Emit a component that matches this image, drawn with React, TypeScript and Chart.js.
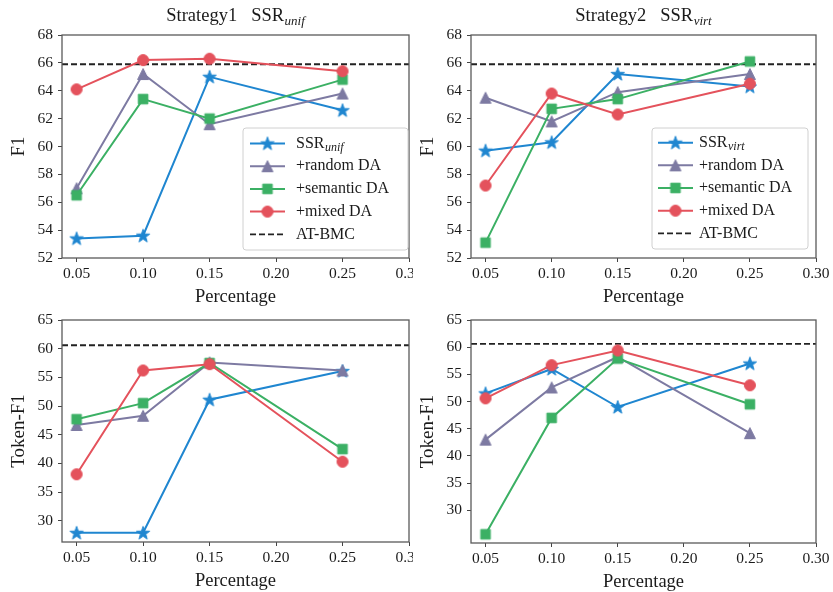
import React, { useEffect, useRef } from 'react';
import { Chart, registerables } from 'chart.js';

Chart.register(...registerables);

// ---------------- data ----------------
const percentages = [0.05, 0.1, 0.15, 0.25];
const xTickValues = [0.05, 0.1, 0.15, 0.2, 0.25, 0.3];
const f1TickValues = [52, 54, 56, 58, 60, 62, 64, 66, 68];
const tokenTickValues = [30, 35, 40, 45, 50, 55, 60, 65];

const seriesLabels = ['SSR', '+random DA', '+semantic DA', '+mixed DA'];
const baselineLabel = 'AT-BMC';
const xAxisTitle = 'Percentage';

const strategy1Title = 'Strategy1';
const strategy1Sub = 'unif';
const strategy2Title = 'Strategy2';
const strategy2Sub = 'virt';

// Strategy1, F1
const s1F1Ssr = [53.4, 53.6, 65.0, 62.6];
const s1F1Random = [57.0, 65.2, 61.6, 63.8];
const s1F1Semantic = [56.5, 63.4, 62.0, 64.8];
const s1F1Mixed = [64.1, 66.2, 66.3, 65.4];

// Strategy2, F1
const s2F1Ssr = [59.7, 60.3, 65.2, 64.3];
const s2F1Random = [63.5, 61.8, 63.9, 65.2];
const s2F1Semantic = [53.1, 62.7, 63.4, 66.1];
const s2F1Mixed = [57.2, 63.8, 62.3, 64.5];

// Strategy1, Token-F1
const s1TokSsr = [27.9, 27.9, 51.1, 56.1];
const s1TokRandom = [46.7, 48.3, 57.6, 56.2];
const s1TokSemantic = [47.7, 50.5, 57.5, 42.5];
const s1TokMixed = [38.1, 56.2, 57.3, 40.3];

// Strategy2, Token-F1
const s2TokSsr = [51.5, 56.0, 49.0, 57.0];
const s2TokRandom = [43.0, 52.6, 58.2, 44.2];
const s2TokSemantic = [25.6, 47.0, 57.9, 49.5];
const s2TokMixed = [50.6, 56.7, 59.4, 53.0];

const atBmcF1 = 65.9;
const atBmcToken = 60.6;

// ---------------- styles ----------------
const SERIF = "'Liberation Serif', 'DejaVu Serif', serif";
const COLORS = ['#1f86d0', '#7d7aa2', '#3bb064', '#e4525c'];
const SHAPES = ['star', 'triangle', 'square', 'circle'];
const TEXT = '#1a1a1a';

function makeMarker(shape: string, color: string): HTMLCanvasElement {
  const c = document.createElement('canvas');
  c.width = 18;
  c.height = 18;
  const ctx = c.getContext('2d')!;
  const cx = 9, cy = 9;
  ctx.fillStyle = color;
  ctx.strokeStyle = color;
  ctx.lineWidth = 1;
  ctx.beginPath();
  if (shape === 'star') {
    const R = 7, r = 2.8;
    for (let i = 0; i < 10; i++) {
      const ang = -Math.PI / 2 + (i * Math.PI) / 5;
      const rad = i % 2 === 0 ? R : r;
      const px = cx + rad * Math.cos(ang);
      const py = cy + 0.5 + rad * Math.sin(ang);
      if (i === 0) ctx.moveTo(px, py); else ctx.lineTo(px, py);
    }
    ctx.closePath();
  } else if (shape === 'triangle') {
    const h = 5.5;
    ctx.moveTo(cx, cy - h);
    ctx.lineTo(cx + h, cy + h);
    ctx.lineTo(cx - h, cy + h);
    ctx.closePath();
  } else if (shape === 'square') {
    const h = 4.8;
    ctx.rect(cx - h, cy - h, 2 * h, 2 * h);
  } else {
    ctx.arc(cx, cy, 5.5, 0, Math.PI * 2);
  }
  ctx.fill();
  ctx.stroke();
  return c;
}

type Area = { left: number; right: number; top: number; bottom: number };
type LegendBox = {
  rightInset: number; bottomInset: number; width: number; height: number;
  lineStart: number; textStart: number; rowStart: number; rowGap: number;
};
type Panel = {
  key: string;
  left: number; top: number; width: number; height: number;
  area: Area;
  xMin: number; xMax: number; yMin: number; yMax: number;
  yTicks: number[];
  yTitle: string;
  sub: string;
  title?: string;
  legend?: LegendBox;
  series: number[][];
  baseline: number;
};

const panels: Panel[] = [
  {
    key: 'tl', left: 0, top: 0, width: 413, height: 314,
    area: { left: 62, right: 409, top: 35, bottom: 258 },
    xMin: 0.039, xMax: 0.3, yMin: 52, yMax: 68, yTicks: f1TickValues,
    yTitle: 'F1', sub: strategy1Sub, title: strategy1Title,
    legend: { rightInset: 1, bottomInset: 8, width: 165, height: 122, lineStart: 7, textStart: 53, rowStart: 15.5, rowGap: 22.7 },
    series: [s1F1Ssr, s1F1Random, s1F1Semantic, s1F1Mixed], baseline: atBmcF1,
  },
  {
    key: 'tr', left: 415, top: 0, width: 418, height: 314,
    area: { left: 471, right: 816, top: 35, bottom: 258 },
    xMin: 0.039, xMax: 0.3, yMin: 52, yMax: 68, yTicks: f1TickValues,
    yTitle: 'F1', sub: strategy2Sub, title: strategy2Title,
    legend: { rightInset: 8, bottomInset: 9, width: 156, height: 121, lineStart: 6, textStart: 47, rowStart: 14.7, rowGap: 22.65 },
    series: [s2F1Ssr, s2F1Random, s2F1Semantic, s2F1Mixed], baseline: atBmcF1,
  },
  {
    key: 'bl', left: 0, top: 306, width: 413, height: 286,
    area: { left: 62, right: 409, top: 320, bottom: 542 },
    xMin: 0.039, xMax: 0.3, yMin: 26.3, yMax: 65, yTicks: tokenTickValues,
    yTitle: 'Token-F1', sub: strategy1Sub,
    series: [s1TokSsr, s1TokRandom, s1TokSemantic, s1TokMixed], baseline: atBmcToken,
  },
  {
    key: 'br', left: 415, top: 306, width: 418, height: 286,
    area: { left: 471, right: 816, top: 320, bottom: 543 },
    xMin: 0.039, xMax: 0.3, yMin: 24, yMax: 65, yTicks: tokenTickValues,
    yTitle: 'Token-F1', sub: strategy2Sub,
    series: [s2TokSsr, s2TokRandom, s2TokSemantic, s2TokMixed], baseline: atBmcToken,
  },
];

function drawSSR(ctx: CanvasRenderingContext2D, x: number, y: number, mainSize: number, subSize: number, sub: string, subDrop: number) {
  ctx.textAlign = 'left';
  ctx.font = `${mainSize}px ${SERIF}`;
  ctx.fillText('SSR', x, y);
  const w = ctx.measureText('SSR').width;
  ctx.font = `italic ${subSize}px ${SERIF}`;
  ctx.fillText(sub, x + w + 0.5, y + subDrop);
}

function makeDecor(panel: Panel, markers: HTMLCanvasElement[]) {
  return {
    id: 'decor_' + panel.key,
    afterDraw(chart: any) {
      const ctx: CanvasRenderingContext2D = chart.ctx;
      const a = chart.chartArea;
      ctx.save();
      // frame
      ctx.strokeStyle = '#5a5a5a';
      ctx.lineWidth = 1.3;
      ctx.setLineDash([]);
      ctx.strokeRect(a.left, a.top, a.right - a.left, a.bottom - a.top);

      ctx.fillStyle = TEXT;
      // x title
      ctx.font = `18.5px ${SERIF}`;
      ctx.textAlign = 'center';
      ctx.textBaseline = 'middle';
      ctx.fillText(xAxisTitle, (a.left + a.right) / 2, a.bottom + 39);
      // y title
      ctx.save();
      ctx.translate(a.left - 43, (a.top + a.bottom) / 2);
      ctx.rotate(-Math.PI / 2);
      ctx.font = `19px ${SERIF}`;
      ctx.fillText(panel.yTitle, 0, 0);
      ctx.restore();

      // title
      if (panel.title) {
        ctx.textBaseline = 'alphabetic';
        ctx.font = `18.5px ${SERIF}`;
        const w1 = ctx.measureText(panel.title).width;
        const w2 = ctx.measureText('SSR').width;
        ctx.font = `italic 13px ${SERIF}`;
        const w3 = ctx.measureText(panel.sub).width;
        const gap = 14;
        const total = w1 + gap + w2 + 0.5 + w3;
        const x0 = (a.left + a.right) / 2 - total / 2;
        const yb = 21;
        ctx.textAlign = 'left';
        ctx.font = `18.5px ${SERIF}`;
        ctx.fillText(panel.title, x0, yb);
        drawSSR(ctx, x0 + w1 + gap, yb, 18.5, 13, panel.sub, 4);
      }

      // legend
      const L = panel.legend;
      if (L) {
        const bx = a.right - L.rightInset - L.width;
        const by = a.bottom - L.bottomInset - L.height;
        ctx.beginPath();
        const r = 3;
        ctx.moveTo(bx + r, by);
        ctx.lineTo(bx + L.width - r, by);
        ctx.quadraticCurveTo(bx + L.width, by, bx + L.width, by + r);
        ctx.lineTo(bx + L.width, by + L.height - r);
        ctx.quadraticCurveTo(bx + L.width, by + L.height, bx + L.width - r, by + L.height);
        ctx.lineTo(bx + r, by + L.height);
        ctx.quadraticCurveTo(bx, by + L.height, bx, by + L.height - r);
        ctx.lineTo(bx, by + r);
        ctx.quadraticCurveTo(bx, by, bx + r, by);
        ctx.closePath();
        ctx.fillStyle = 'rgba(255,255,255,0.85)';
        ctx.fill();
        ctx.strokeStyle = '#d0d0d0';
        ctx.lineWidth = 1;
        ctx.stroke();

        const lineLen = 35;
        const lx = bx + L.lineStart;
        const tx = bx + L.textStart;
        ctx.textBaseline = 'middle';
        for (let i = 0; i < 5; i++) {
          const ry = by + L.rowStart + i * L.rowGap;
          ctx.beginPath();
          ctx.moveTo(lx, ry);
          ctx.lineTo(lx + lineLen, ry);
          if (i < 4) {
            ctx.strokeStyle = COLORS[i];
            ctx.lineWidth = 2;
            ctx.setLineDash([]);
            ctx.stroke();
            const m = markers[i];
            ctx.drawImage(m, lx + lineLen / 2 - m.width / 2, ry - m.height / 2);
          } else {
            ctx.strokeStyle = '#222';
            ctx.lineWidth = 1.8;
            ctx.setLineDash([6, 3]);
            ctx.stroke();
            ctx.setLineDash([]);
          }
          ctx.fillStyle = TEXT;
          if (i === 0) {
            drawSSR(ctx, tx, ry, 16, 12, panel.sub, 4);
          } else {
            ctx.textAlign = 'left';
            ctx.font = `16px ${SERIF}`;
            ctx.fillText(i < 4 ? seriesLabels[i] : baselineLabel, tx, ry);
          }
        }
      }
      ctx.restore();
    },
  };
}

function ChartPanel({ panel }: { panel: Panel }) {
  const ref = useRef<HTMLCanvasElement | null>(null);
  useEffect(() => {
    const canvas = ref.current;
    if (!canvas) return;
    const markers = SHAPES.map((s, i) => makeMarker(s, COLORS[i]));
    const a = panel.area;
    const padTop = a.top - panel.top;
    const padRight = panel.left + panel.width - a.right;
    const yAxisW = a.left - panel.left;
    const xAxisH = panel.top + panel.height - a.bottom;

    const datasets: any[] = [
      {
        label: baselineLabel,
        data: [{ x: panel.xMin, y: panel.baseline }, { x: panel.xMax, y: panel.baseline }],
        borderColor: '#222',
        borderWidth: 1.8,
        borderDash: [6, 3],
        pointRadius: 0,
        fill: false,
        order: 10,
      },
      ...panel.series.map((vals, i) => ({
        label: seriesLabels[i],
        data: percentages.map((x, j) => ({ x, y: vals[j] })),
        borderColor: COLORS[i],
        backgroundColor: COLORS[i],
        borderWidth: 2,
        pointStyle: markers[i],
        pointRadius: 6,
        fill: false,
        tension: 0,
        order: 4 - i,
      })),
    ];

    const tickFont = { family: SERIF, size: 15.5 };
    const chart = new Chart(canvas, {
      type: 'line',
      data: { datasets },
      options: {
        responsive: false,
        animation: false,
        devicePixelRatio: 1,
        layout: { autoPadding: false, padding: { top: padTop, right: padRight, left: 0, bottom: 0 } },
        plugins: {
          legend: { display: false },
          tooltip: { enabled: false },
          title: { display: false },
        },
        scales: {
          x: {
            type: 'linear',
            min: panel.xMin,
            max: panel.xMax,
            afterBuildTicks: (s: any) => {
              s.ticks = xTickValues.map((v) => ({ value: v }));
            },
            afterFit: (s: any) => {
              s.height = xAxisH;
              s.paddingLeft = 0;
              s.paddingRight = 0;
            },
            grid: { drawOnChartArea: false, drawTicks: true, tickLength: 4, color: '#444', lineWidth: 1 },
            border: { display: false },
            ticks: {
              font: tickFont,
              color: TEXT,
              padding: 3,
              autoSkip: false,
              maxRotation: 0,
              callback: (v: any) => Number(v).toFixed(2),
            },
          },
          y: {
            type: 'linear',
            min: panel.yMin,
            max: panel.yMax,
            afterBuildTicks: (s: any) => {
              s.ticks = panel.yTicks.map((v) => ({ value: v }));
            },
            afterFit: (s: any) => {
              s.width = yAxisW;
              s.paddingTop = 0;
              s.paddingBottom = 0;
            },
            grid: { drawOnChartArea: false, drawTicks: true, tickLength: 4, color: '#444', lineWidth: 1 },
            border: { display: false },
            ticks: {
              font: tickFont,
              color: TEXT,
              padding: 5,
              autoSkip: false,
              callback: (v: any) => String(v),
            },
          },
        },
      } as any,
      plugins: [makeDecor(panel, markers)],
    });
    return () => chart.destroy();
  }, [panel]);

  return (
    <canvas
      ref={ref}
      width={panel.width}
      height={panel.height}
      style={{ position: 'absolute', left: panel.left, top: panel.top, width: panel.width, height: panel.height }}
    />
  );
}

export default function App() {
  return (
    <div style={{ position: 'absolute', left: 0, top: 0, width: 833, height: 592, background: '#fff', overflow: 'hidden' }}>
      {panels.map((p) => (
        <ChartPanel key={p.key} panel={p} />
      ))}
    </div>
  );
}
